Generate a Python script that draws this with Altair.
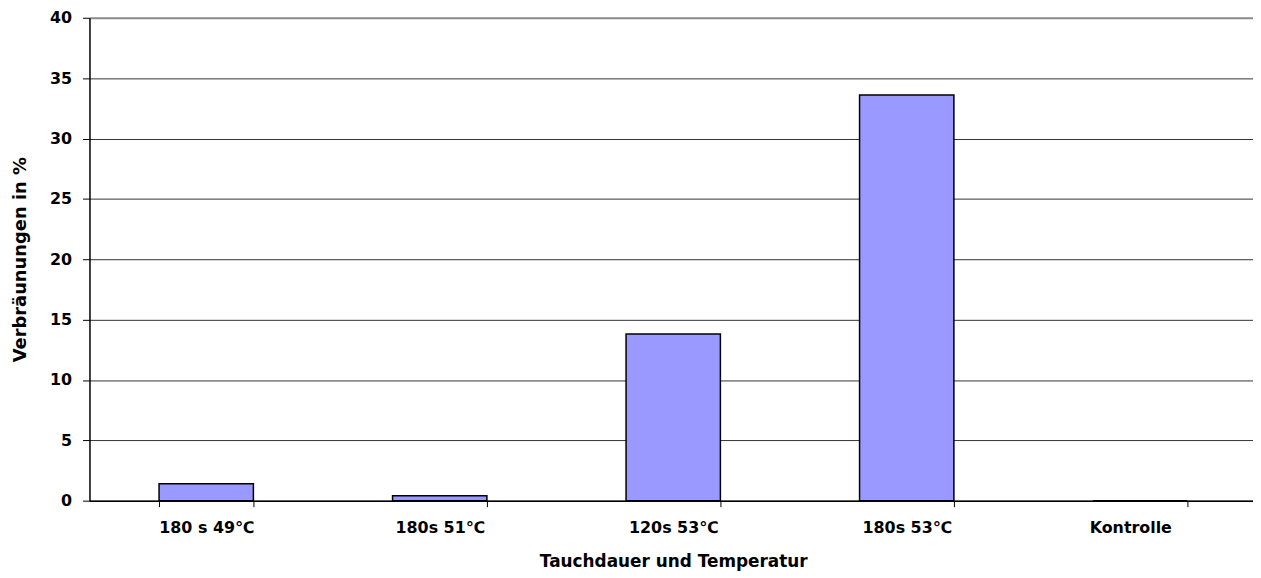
import altair as alt
import pandas as pd

categories = ["180 s 49℃", "180s 51℃", "120s 53℃", "180s 53℃", "Kontrolle"]
values = [1.4, 0.4, 13.8, 33.6, 0.0]
y_ticks = [0, 5, 10, 15, 20, 25, 30, 35, 40]

df = pd.DataFrame({"cat": categories, "val": values})

FONT = "DejaVu Sans"

chart = alt.Chart(df).mark_bar(
    color="#9999FF", stroke="black", strokeWidth=1.5
).encode(
    x=alt.X("cat:N", sort=categories,
            scale=alt.Scale(paddingInner=0.596, paddingOuter=0.298, range=[0, 1175]),
            axis=alt.Axis(title="Tauchdauer und Temperatur", labelAngle=0,
                          tickBand="extent", ticks=True, tickSize=6,
                          tickColor="black", domainColor="black", domainWidth=1.5,
                          labelFont=FONT, labelFontSize=16, labelFontWeight="bold",
                          labelColor="black", labelPadding=13,
                          labelOffset={"condition": {"test": "datum.value == 'Kontrolle'", "value": -10}, "value": 0},
                          titleFont=FONT, titleFontSize=17, titleFontWeight="bold",
                          titleColor="black", titlePadding=18, grid=False)),
    y=alt.Y("val:Q", scale=alt.Scale(domain=[0, 40]),
            axis=alt.Axis(title="Verbräunungen in %", values=y_ticks,
                          tickSize=7, tickColor="black", domainColor="black", domainWidth=1.5,
                          grid=True,
                          gridColor={"condition": {"test": "datum.value == 40", "value": "#8a8a8a"}, "value": "#333333"},
                          gridWidth={"condition": {"test": "datum.value == 40", "value": 2}, "value": 1},
                          labelFont=FONT, labelFontSize=16, labelFontWeight="bold",
                          labelColor="black", labelPadding=11,
                          titleFont=FONT, titleFontSize=18, titleFontWeight="bold",
                          titleColor="black", titlePadding=20)),
).properties(
    width=1171, height=486,
    autosize=alt.AutoSizeParams(type="none"),
    padding={"left": 82, "top": 8, "right": 0, "bottom": 78},
).configure_view(stroke=None)

chart.save("out.html", embed_options={"renderer": "svg", "actions": False})
